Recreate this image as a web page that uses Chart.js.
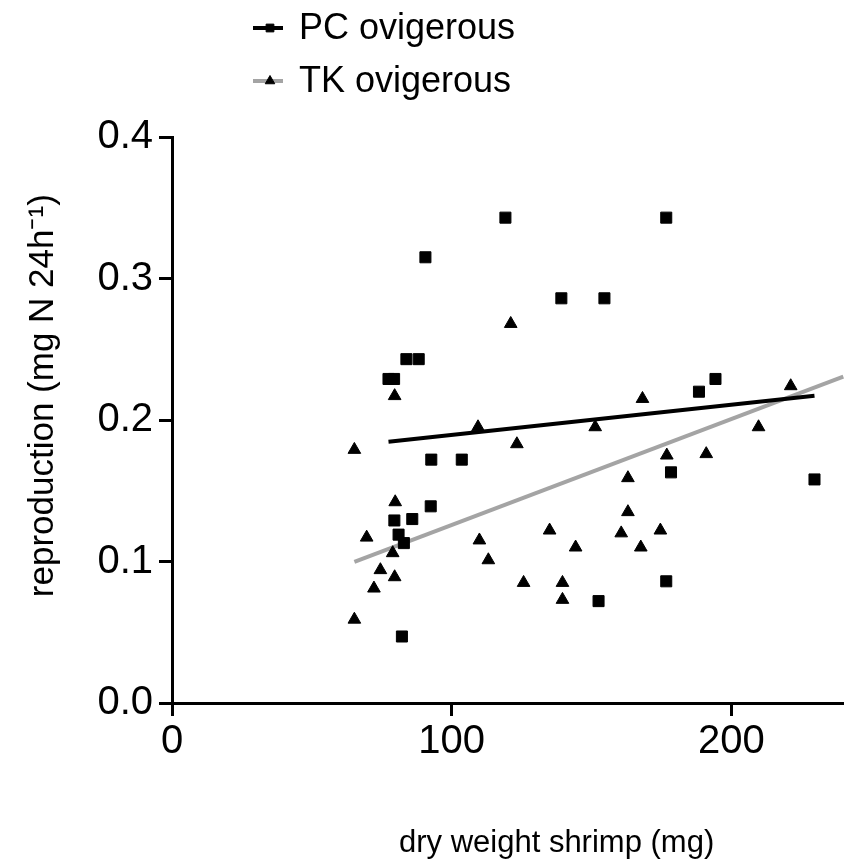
<!DOCTYPE html>
<html>
<head>
<meta charset="utf-8">
<script src="https://cdn.jsdelivr.net/npm/chart.js@4.4.0/dist/chart.umd.min.js"></script>
<style>
  html, body { margin: 0; padding: 0; background: #fff; overflow: hidden; }
  canvas { display: block; }
</style>
</head>
<body>
<canvas id="shrimpChart" width="950" height="867"></canvas>
<script>
// PC ovigerous (squares)
const pcX = [119.2, 176.7, 90.6, 139.2, 154.6, 83.8, 88.2, 77.4, 79.4, 188.4, 194.3, 92.7,
             103.6, 178.4, 92.5, 85.9, 79.5, 81.0, 82.9, 176.7, 152.5, 82.2, 229.7];
const pcY = [0.343, 0.343, 0.315, 0.286, 0.286, 0.243, 0.243, 0.229, 0.229, 0.220, 0.229, 0.172,
             0.172, 0.163, 0.139, 0.130, 0.129, 0.119, 0.113, 0.086, 0.072, 0.047, 0.158];

// TK ovigerous (triangles)
const tkX = [121.1, 79.6, 168.2, 109.4, 151.3, 65.2, 123.3, 221.2, 209.7, 176.9, 191.0, 174.6,
             167.6, 163.0, 79.8, 163.0, 69.6, 135.0, 160.6, 109.9, 144.3, 78.9, 113.1, 74.5,
             79.6, 72.2, 125.7, 139.6, 139.6, 65.2];
const tkY = [0.268, 0.217, 0.215, 0.195, 0.195, 0.179, 0.183, 0.224, 0.195, 0.175, 0.176, 0.122,
             0.110, 0.159, 0.142, 0.135, 0.117, 0.122, 0.120, 0.115, 0.110, 0.106, 0.101, 0.094,
             0.089, 0.081, 0.085, 0.085, 0.073, 0.059];

// regression lines (end points)
const pcFitX = [77.4, 229.7];
const pcFitY = [0.1846, 0.2172];
const tkFitX = [65.2, 240];
const tkFitY = [0.0997, 0.2306];

const xTicks = [0, 100, 200];
const yTicks = [0, 0.1, 0.2, 0.3, 0.4];
const seriesNames = ["PC ovigerous", "TK ovigerous"];

const FONT = "'Liberation Sans', Arial, sans-serif";
const GREY = "#a4a4a4";
const toPoints = (xs, ys) => xs.map((x, i) => ({ x, y: ys[i] }));

// two-row legend above the plot, like the original
const stackedLegend = {
  id: "stackedLegend",
  afterDraw(chart) {
    const ctx = chart.ctx;
    const x0 = chart.chartArea.left + 81;
    const rows = [
      { ds: chart.data.datasets[0], line: "#000", r: 5.5, y: 28 },
      { ds: chart.data.datasets[1], line: GREY, r: 5.5, y: 81 }
    ];
    ctx.save();
    rows.forEach(row => {
      ctx.strokeStyle = row.line;
      ctx.lineWidth = 4;
      ctx.beginPath();
      ctx.moveTo(x0, row.y);
      ctx.lineTo(x0 + 30, row.y);
      ctx.stroke();
      ctx.fillStyle = "#000";
      ctx.strokeStyle = "#000";
      ctx.lineWidth = 1;
      Chart.helpers.drawPoint(ctx, { pointStyle: row.ds.pointStyle, radius: row.r, rotation: 0, borderWidth: 1 }, x0 + 17, row.y);
      ctx.font = "36px " + FONT;
      ctx.textBaseline = "middle";
      ctx.textAlign = "left";
      ctx.fillText(row.ds.label, x0 + 46, row.y + 1);
    });
    ctx.restore();
  }
};

const axisGrid = { drawOnChartArea: false, drawTicks: true, tickLength: 13, tickWidth: 3, color: "#000" };
const axisBorder = { display: true, color: "#000", width: 3 };

new Chart(document.getElementById("shrimpChart"), {
  type: "scatter",
  data: {
    datasets: [
      {
        label: seriesNames[0],
        data: toPoints(pcX, pcY),
        pointStyle: "rect",
        pointRadius: 7.8,
        backgroundColor: "#000",
        borderColor: "#000",
        borderWidth: 1
      },
      {
        label: seriesNames[1],
        data: toPoints(tkX, tkY),
        pointStyle: "triangle",
        pointRadius: 7.3,
        backgroundColor: "#000",
        borderColor: "#000",
        borderWidth: 1
      },
      {
        type: "line",
        label: "PC fit",
        data: toPoints(pcFitX, pcFitY),
        borderColor: "#000",
        borderWidth: 4,
        pointRadius: 0,
        fill: false
      },
      {
        type: "line",
        label: "TK fit",
        data: toPoints(tkFitX, tkFitY),
        borderColor: GREY,
        borderWidth: 4,
        pointRadius: 0,
        fill: false
      }
    ]
  },
  options: {
    responsive: false,
    animation: false,
    events: [],
    layout: { padding: { top: 137, left: 0, right: 0, bottom: 0 } },
    plugins: { legend: { display: false }, tooltip: { enabled: false } },
    scales: {
      x: {
        type: "linear",
        min: 0,
        max: 275,
        afterBuildTicks: s => { s.ticks = xTicks.map(v => ({ value: v })); },
        afterFit: s => { s.height = 164; },
        grid: axisGrid,
        border: axisBorder,
        ticks: { color: "#000", padding: 2, maxRotation: 0, font: { family: FONT, size: 40 } },
        title: {
          display: true,
          text: "dry weight shrimp (mg)",
          color: "#000",
          padding: { top: 0, bottom: 5 },
          font: { family: FONT, size: 31 }
        }
      },
      y: {
        type: "linear",
        min: 0,
        max: 0.4,
        afterBuildTicks: s => { s.ticks = yTicks.map(v => ({ value: v })); },
        afterFit: s => { s.width = 172; },
        grid: axisGrid,
        border: axisBorder,
        ticks: { color: "#000", padding: 6, callback: v => v.toFixed(1), font: { family: FONT, size: 40 } },
        title: {
          display: true,
          text: "     reproduction (mg N 24h\u207B\u00B9)",
          color: "#000",
          padding: { top: 22, bottom: 0 },
          font: { family: FONT, size: 35 }
        }
      }
    }
  },
  plugins: [stackedLegend]
});
</script>
</body>
</html>
